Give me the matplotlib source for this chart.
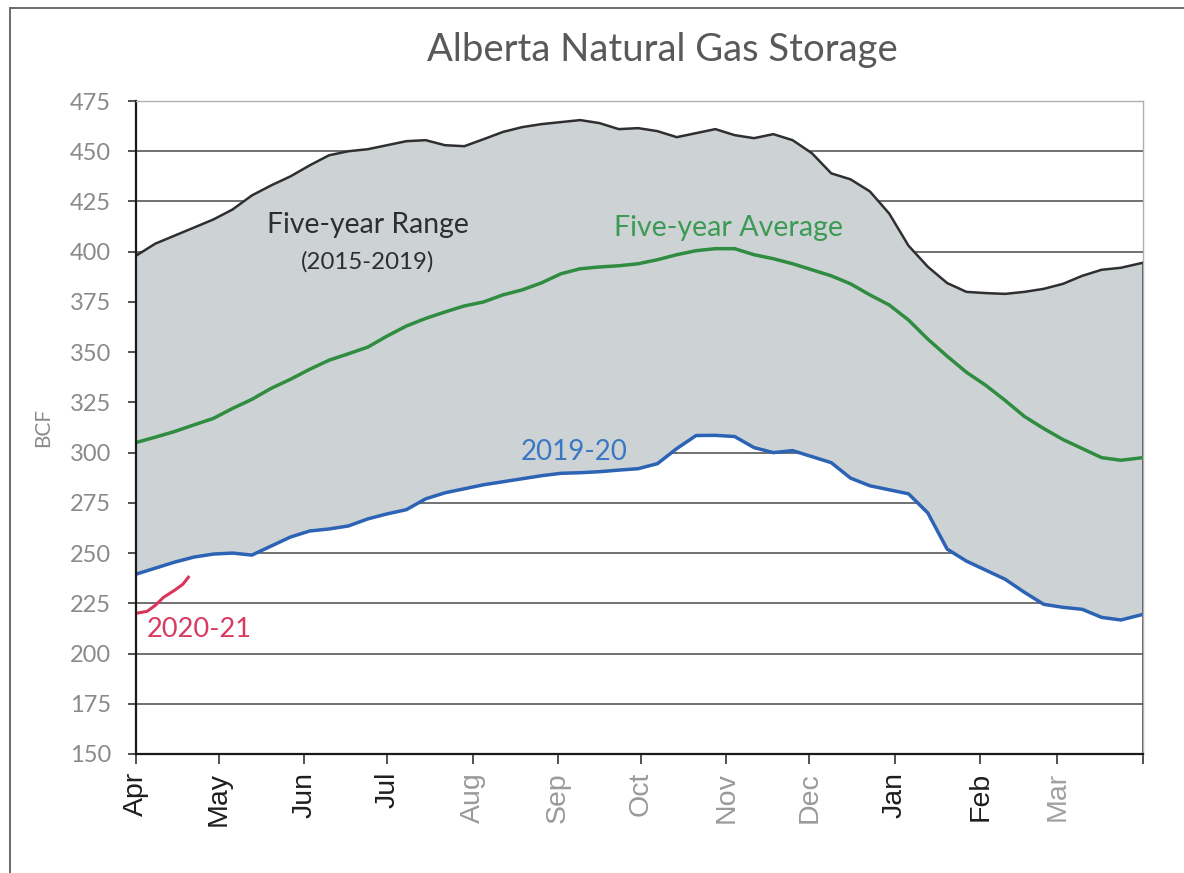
import matplotlib
matplotlib.use("Agg")
import matplotlib.pyplot as plt
from matplotlib.patches import Rectangle

# ---------------- data ----------------
# day index counted from April 1 (weekly readings, last = end of March)
days = [0, 7, 14, 21, 28, 35, 42, 49, 56, 63, 70, 77, 84, 91, 98, 105, 112,
        119, 126, 133, 140, 147, 154, 161, 168, 175, 182, 189, 196, 203, 210,
        217, 224, 231, 238, 245, 252, 259, 266, 273, 280, 287, 294, 301, 308,
        315, 322, 329, 336, 343, 350, 357, 365]

range_max = [398, 404, 408, 412, 416, 421, 428, 433, 437.5, 443, 448, 450,
             451, 453, 455, 455.5, 453, 452.5, 456, 459.6, 462, 463.5, 464.5,
             465.5, 464, 461, 461.5, 460, 457, 459, 461, 458, 456.5, 458.5,
             455.5, 449, 439, 436, 430, 419, 403, 392.5, 384.4, 380, 379.4,
             379, 380, 381.5, 384, 388, 391, 392, 394.5]

five_year_avg = [305, 307.7, 310.5, 313.8, 317, 322, 326.5, 332, 336.5, 341.5,
                 346, 349.2, 352.5, 358, 363, 366.8, 370, 373, 375, 378.5,
                 381, 384.5, 389, 391.5, 392.4, 393, 394, 396, 398.5, 400.5,
                 401.5, 401.5, 398.5, 396.5, 394, 391, 388, 384, 378.5, 373.5,
                 366, 356.5, 348, 340, 333.5, 326, 318, 312, 306.5, 302,
                 297.5, 296.2, 297.5]

storage_2019_20 = [239.5, 242.5, 245.5, 248, 249.5, 250, 249, 253.5, 258, 261,
                   262, 263.5, 267, 269.5, 271.6, 277, 280, 282, 284, 285.5,
                   287, 288.5, 289.7, 290, 290.5, 291.3, 292, 294.5, 302,
                   308.5, 308.6, 308, 302.5, 300, 301, 298, 295, 287.3, 283.5,
                   281.5, 279.5, 270, 252, 246, 241.5, 237, 230.5, 224.5, 223,
                   222, 218, 216.7, 219.5]

days_2020_21 = [0, 4, 7, 10, 14, 17, 19]
storage_2020_21 = [220, 221, 224, 228, 231.5, 234.5, 238]

month_ticks = [0, 30, 61, 91, 122, 153, 183, 214, 244, 275, 306, 334, 365]
month_labels = ["Apr", "May", "Jun", "Jul", "Aug", "Sep", "Oct", "Nov", "Dec",
                "Jan", "Feb", "Mar", ""]
label_colors = ["#1e1e1e", "#1e1e1e", "#1e1e1e", "#1e1e1e", "#9a9a9a",
                "#9a9a9a", "#9a9a9a", "#9a9a9a", "#9a9a9a", "#1e1e1e",
                "#1e1e1e", "#a0a0a0", "#1e1e1e"]
y_ticks = [150, 175, 200, 225, 250, 275, 300, 325, 350, 375, 400, 425, 450, 475]

# ---------------- figure ----------------
W, H = 1184, 873
fig = plt.figure(figsize=(W / 100, H / 100), dpi=100)
fig.patch.set_facecolor("white")

# outer frame of the scanned chart
frame = Rectangle((10 / W, -0.05), 1.1, 1 - 8 / H + 0.05, transform=fig.transFigure,
                  fill=False, edgecolor="#6a6a6a", linewidth=1.4)
fig.patches.append(frame)

ax = fig.add_axes([136 / W, 1 - 754 / H, (1143 - 136) / W, (754 - 101) / H])

ax.set_xlim(0, 365)
ax.set_ylim(150, 475)

# gridlines
ax.set_yticks(y_ticks)
ax.yaxis.grid(True, color="#4a4a4a", linewidth=1.1, zorder=0)
ax.set_axisbelow(True)
ax.get_ygridlines()[-1].set_color("#b0b0b0")

# five-year range area
ax.fill_between(days, storage_2019_20, range_max, color="#cdd3d5", linewidth=0, zorder=2)
ax.plot(days, range_max, color="#2f2f2f", linewidth=1.8, zorder=3)
ax.vlines(days[-1], 150, range_max[-1], color="#2f2f2f", linewidth=1.8, zorder=3)

# series
ax.plot(days, five_year_avg, color="#2f8c40", linewidth=2.5, zorder=4)
ax.plot(days, storage_2019_20, color="#2c63b4", linewidth=2.5, zorder=4)
ax.plot(days_2020_21, storage_2020_21, color="#d8345c", linewidth=2.2, zorder=5)

# spines
for side in ["left", "bottom"]:
    ax.spines[side].set_color("#1a1a1a")
    ax.spines[side].set_linewidth(1.6)
for side in ["top", "right"]:
    ax.spines[side].set_color("#b0b0b0")
    ax.spines[side].set_linewidth(1.0)
for s in ax.spines.values():
    s.set_zorder(6)

# ticks
ax.set_xticks(month_ticks)
ax.set_xticklabels(month_labels, rotation=90, fontsize=20.5,
                   fontfamily="Liberation Sans")
for lbl, c in zip(ax.get_xticklabels(), label_colors):
    lbl.set_color(c)
ax.tick_params(axis="x", direction="out", length=7, width=1.2, color="#333333", pad=6)
ax.tick_params(axis="y", direction="out", length=6, width=1.2, color="#333333",
               pad=12, labelsize=17, labelcolor="#8a8a8a")
for lbl in ax.get_yticklabels():
    lbl.set_fontfamily("Lato")

ax.set_ylabel("BCF", fontsize=15, color="#8a8a8a", fontfamily="Lato", labelpad=12)

# title
fig.text(662 / W, 1 - 50 / H, "Alberta Natural Gas Storage", ha="center", va="center",
         fontsize=27.5, color="#595959", fontfamily="Lato")

# annotations (axes fraction positions)
ax.text(0.2304, 0.810, "Five-year Range", transform=ax.transAxes, ha="center",
        va="center", fontsize=20.4, color="#2e2e2e", fontfamily="Lato", zorder=7)
ax.text(0.2304, 0.7534, "(2015-2019)", transform=ax.transAxes, ha="center",
        va="center", fontsize=17.3, color="#2e2e2e", fontfamily="Lato", zorder=7)
ax.text(0.588, 0.8055, "Five-year Average", transform=ax.transAxes, ha="center",
        va="center", fontsize=20.6, color="#3d9a55", fontfamily="Lato", zorder=7)
ax.text(0.435, 0.4625, "2019-20", transform=ax.transAxes, ha="center",
        va="center", fontsize=20, color="#3b78c4", fontfamily="Lato", zorder=7)
ax.text(0.0626, 0.19, "2020-21", transform=ax.transAxes, ha="center",
        va="center", fontsize=19.6, color="#d83a60", fontfamily="Lato", zorder=7)

fig.savefig("out.png", dpi=100, facecolor="white")
